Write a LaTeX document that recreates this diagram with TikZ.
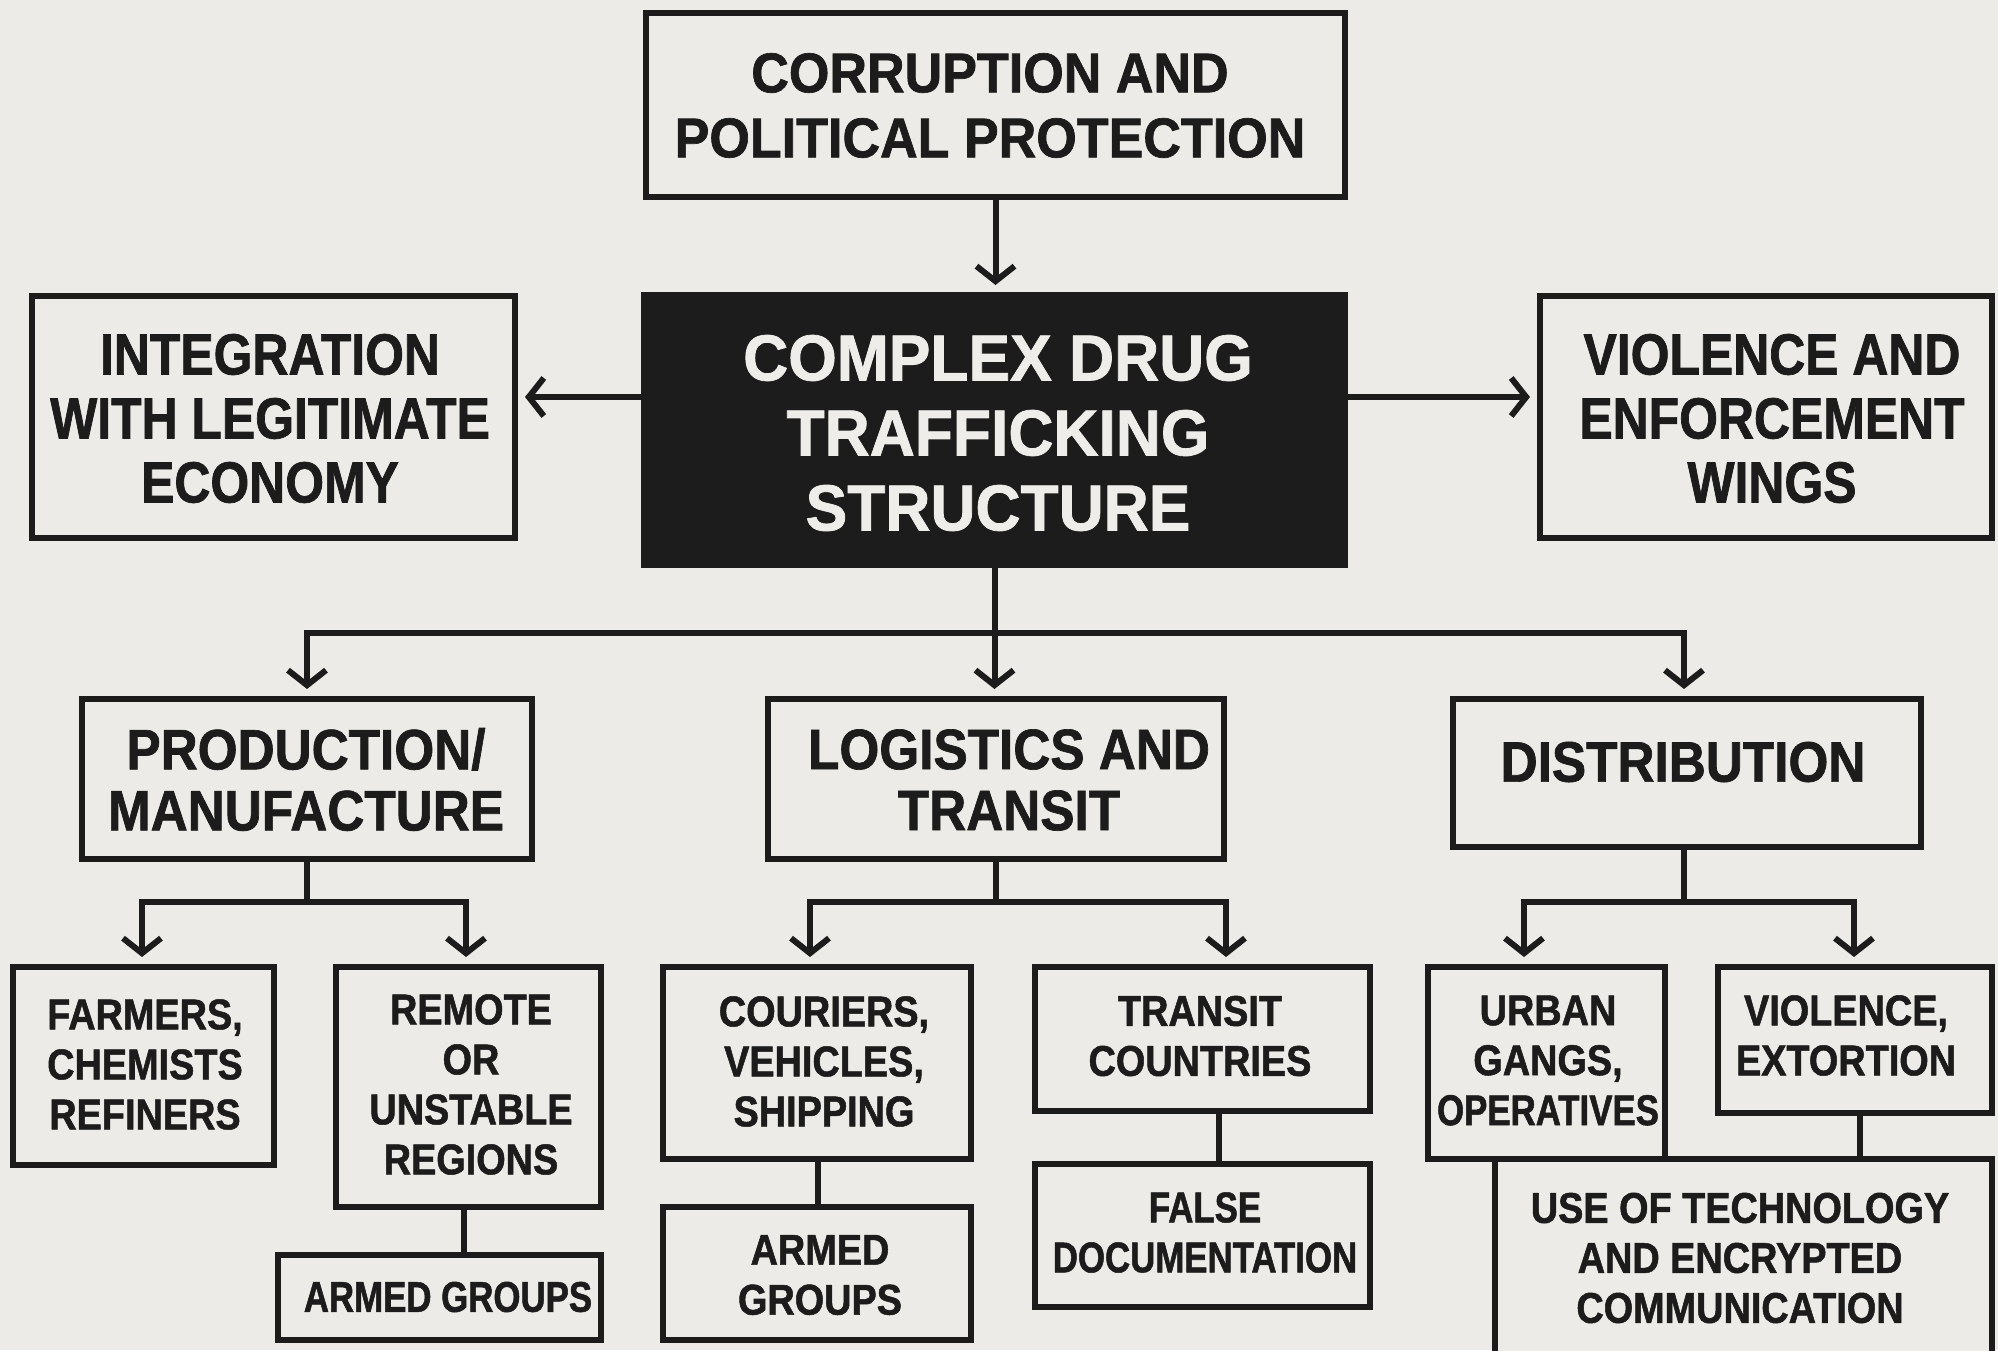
\documentclass[tikz,border=0pt]{standalone}
\usepackage{fontspec}
\setmainfont{Liberation Sans}
\newfontfamily\fTop{Liberation Sans}[FakeStretch=0.93,FakeBold=1.2]
\newfontfamily\fMain{Liberation Sans}[FakeStretch=0.96,FakeBold=1.2]
\newfontfamily\fSide{Liberation Sans}[FakeStretch=0.86,FakeBold=1.2]
\newfontfamily\fMid{Liberation Sans}[FakeStretch=0.9,FakeBold=1.2]
\newfontfamily\fLow{Liberation Sans}[FakeStretch=0.88,FakeBold=1.2]
\newfontfamily\fLowN{Liberation Sans}[FakeStretch=0.81,FakeBold=1.2]
\usetikzlibrary{arrows.meta}
\definecolor{bg}{HTML}{ECEBE7}
\definecolor{ink}{HTML}{1C1C1C}
\definecolor{paper}{HTML}{EEEDE9}
\begin{document}
\begin{tikzpicture}[x=1pt,y=-1pt,
  box/.style={draw=ink,line width=6.5pt,fill=bg,inner sep=0pt,outer sep=0pt,anchor=north west},
  conn/.style={draw=ink,line width=6pt},
  arr/.style={conn,-{Straight Barb[length=15pt,width=38pt]},shorten >=10pt},
  txt/.style={align=center,text=ink,inner sep=0pt},
  tTop/.style={txt,font=\fTop\bfseries\fontsize{56}{65}\selectfont},
  tMain/.style={txt,text=paper,font=\fMain\bfseries\fontsize{65}{75}\selectfont},
  tSide/.style={txt,font=\fSide\bfseries\fontsize{58}{64}\selectfont},
  tMid/.style={txt,font=\fMid\bfseries\fontsize{57}{61}\selectfont},
  tLow/.style={txt,font=\fLow\bfseries\fontsize{43}{50}\selectfont},
  tLowN/.style={txt,font=\fLowN\bfseries\fontsize{43}{50}\selectfont}]
\clip (0,0) rectangle (1998,1350);
\fill[bg] (0,0) rectangle (1998,1350);

% boxes
\node[box,minimum width=699pt,minimum height=184pt] (top) at (646,13) {};
\node[box,fill=ink,minimum width=701pt,minimum height=270pt] (center) at (644,295) {};
\node[box,minimum width=483pt,minimum height=242pt] (left) at (32,296) {};
\node[box,minimum width=452pt,minimum height=242pt] (right) at (1540,296) {};
\node[box,minimum width=450pt,minimum height=160pt] (prod) at (82,699) {};
\node[box,minimum width=456pt,minimum height=160pt] (log) at (768,699) {};
\node[box,minimum width=468pt,minimum height=148pt] (dist) at (1453,699) {};
\node[box,minimum width=261pt,minimum height=198pt] (farm) at (13,967) {};
\node[box,minimum width=265pt,minimum height=240pt] (remote) at (336,967) {};
\node[box,minimum width=323pt,minimum height=85pt] (armA) at (278,1255) {};
\node[box,minimum width=308pt,minimum height=192pt] (cour) at (663,967) {};
\node[box,minimum width=335pt,minimum height=144pt] (trans) at (1035,967) {};
\node[box,minimum width=308pt,minimum height=133pt] (armB) at (663,1207) {};
\node[box,minimum width=335pt,minimum height=143pt] (doc) at (1035,1164) {};
\node[box,minimum width=237pt,minimum height=192pt] (urban) at (1428,967) {};
\node[box,minimum width=274pt,minimum height=146pt] (viol) at (1718,967) {};
\node[box,minimum width=497pt,minimum height=261pt] (tech) at (1495,1159) {};

% helper coordinates
\coordinate (yL) at (0,397);
\coordinate (bL) at (307,633);
\coordinate (bR) at (1684,633);
\coordinate (pL) at (142,902);
\coordinate (pR) at (466,902);
\coordinate (lL) at (810,902);
\coordinate (lR) at (1226,902);
\coordinate (dL) at (1524,902);
\coordinate (dR) at (1854,902);
\coordinate (c1) at (464,0);
\coordinate (c2) at (818,0);
\coordinate (c3) at (1219,0);
\coordinate (c4) at (1860,0);

% connectors
\draw[arr] (top.south) -- (top.south |- center.north);
\draw[arr] (center.west |- yL) -- (left.east |- yL);
\draw[arr] (center.east |- yL) -- (right.west |- yL);
\draw[arr] (center.south) -- (center.south |- log.north);
\draw[arr] (center.south |- bL) -| (prod.north);
\draw[arr] (center.south |- bR) -| (bR |- dist.north);

\draw[conn] (prod.south) -- (prod.south |- pL);
\draw[arr] (prod.south |- pL) -| (pL |- farm.north);
\draw[arr] (prod.south |- pR) -| (pR |- remote.north);
\draw[conn] (c1 |- remote.south) -- (c1 |- armA.north);

\draw[conn] (log.south) -- (log.south |- lL);
\draw[arr] (log.south |- lL) -| (lL |- cour.north);
\draw[arr] (log.south |- lR) -| (lR |- trans.north);
\draw[conn] (c2 |- cour.south) -- (c2 |- armB.north);
\draw[conn] (c3 |- trans.south) -- (c3 |- doc.north);

\draw[conn] (bR |- dist.south) -- (bR |- dL);
\draw[arr] (bR |- dL) -| (dL |- urban.north);
\draw[arr] (bR |- dR) -| (dR |- viol.north);
\draw[conn] (c4 |- viol.south) -- (c4 |- tech.north);

% texts
\node[tTop] (tTopT) at (990,105.5) {CORRUPTION AND\\POLITICAL PROTECTION};
\node[tMain] (tCenT) at (998,433) {COMPLEX DRUG\\TRAFFICKING\\STRUCTURE};
\node[tSide] (tLeftT) at (270,418.5) {INTEGRATION\\WITH LEGITIMATE\\ECONOMY};
\node[tSide] (tRightT) at (1772,418.5) {VIOLENCE AND\\ENFORCEMENT\\WINGS};
\node[tMid] (tProdT) at (306,779.5) {PRODUCTION/\\MANUFACTURE};
\node[tMid] (tLogT) at (1009,780) {LOGISTICS AND\\TRANSIT};
\node[tMid] (tDistT) at (1683,762) {DISTRIBUTION};
\node[tLow] (tFarmT) at (145,1064.5) {FARMERS,\\CHEMISTS\\REFINERS};
\node[tLow] (tRemT) at (471,1084.5) {REMOTE\\OR\\UNSTABLE\\REGIONS};
\node[tLowN] (tArmAT) at (448,1297) {ARMED GROUPS};
\node[tLow] (tCourT) at (824,1061.5) {COURIERS,\\VEHICLES,\\SHIPPING};
\node[tLow] (tTransT) at (1200,1036) {TRANSIT\\COUNTRIES};
\node[tLow] (tArmBT) at (820,1275) {ARMED\\GROUPS};
\node[tLowN] (tDocT) at (1205,1232.5) {FALSE\\DOCUMENTATION};
\node[tLow] (tUrbT) at (1548,1060.5) {URBAN\\GANGS,\\{\fLowN OPERATIVES}};
\node[tLow] (tViolT) at (1846,1035.5) {VIOLENCE,\\EXTORTION};
\node[tLow] (tTechT) at (1740,1258) {USE OF TECHNOLOGY\\AND ENCRYPTED\\COMMUNICATION};
\end{tikzpicture}
\end{document}
